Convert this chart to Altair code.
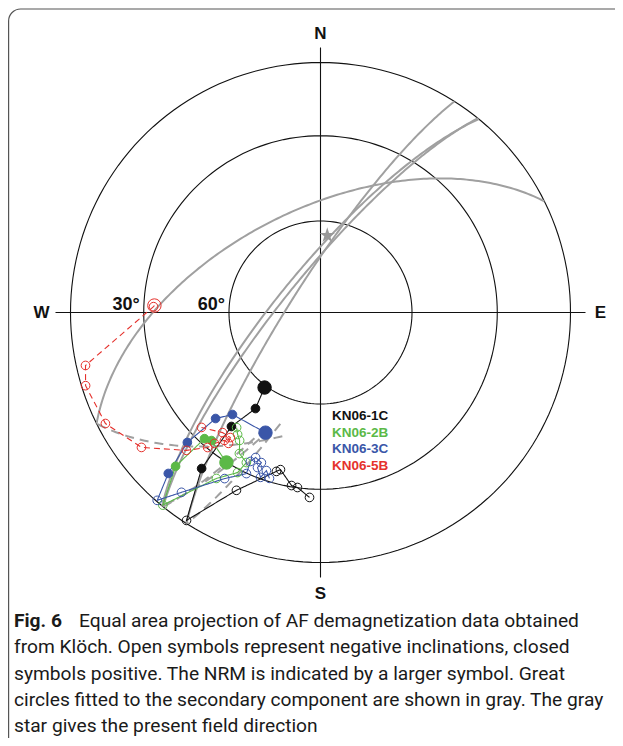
import altair as alt
import pandas as pd

# ---------------- data ----------------
SAMPLES = ["KN06-1C", "KN06-2B", "KN06-3C", "KN06-5B"]
COLORS = ["#111111", "#5bb947", "#3a56a8", "#e5312c"]

# demagnetization paths (declination, inclination); first entry = NRM
s1c_dec = [216.7, 214.1, 218.0, 217.3, 212.8, 205.3, 195.5, 194.3, 189.5, 187.5, 183.4]
s1c_inc = [59.3, 51.7, 41.7, 22.6, -1.2, -22.4, -34.4, -35.4, -30.5, -30.1, -26.8]

s2b_dec = [212.1, 220.4, 222.6, 223.3, 219.3, 212.1, 207.4, 206.3, 209.9, 212.3, 214.2, 216.1]
s2b_inc = [29.9, 33.2, 32.0, 16.6, -0.5, -22.7, -28.7, -33.5, -35.2, -39.3, -40.7, -42.5]

s3c_dec = [204.6, 220.8, 224.7, 225.7, 223.4, 221.0, 217.7, 210.0, 204.7, 205.2, 204.1,
           201.5, 202.1, 200.0, 198.9, 197.1]
s3c_inc = [46.1, 45.2, 40.1, 26.5, 12.4, -0.5, -10.0, -24.3, -29.8, -34.5, -36.6,
           -35.7, -33.5, -30.5, -33.6, -31.2]

s5b_dec = [272.4, 272.0, 257.3, 252.7, 242.7, 233.0, 224.2, 219.9, 219.0, 216.9, 215.1, 215.8,
           219.2, 226.0]
s5b_inc = [-33.9, -33.6, -4.1, -1.8, -3.6, -11.3, -24.1, -30.3, -33.1, -36.2, -36.2, -38.3,
           -38.0, -34.2]

# present field direction (star)
pf_dec = [5.0]
pf_inc = [64.7]

# fitted great circles: dip direction, dip, start angle of the dashed (upper) part
gc_id = [1, 2, 3, 4]
gc_dd = [333.6, 309.3, 309.0, 302.4]
gc_dip = [56.0, 76.0, 78.0, 80.0]
gc_dash_from = [298, 310, 311, 308]

# reference inclination circles
ref_inc = [0, 30, 60]
ref_lab_inc = [30, 60]
ref_lab = ["30°", "60°"]

CAPTION = [
    "Equal area projection of AF demagnetization data obtained",
    "from Klöch. Open symbols represent negative inclinations, closed",
    "symbols positive. The NRM is indicated by a larger symbol. Great",
    "circles fitted to the secondary component are shown in gray. The gray",
    "star gives the present field direction",
]

# ---------------- tables ----------------
def series(name, dec, inc):
    n = len(dec)
    return pd.DataFrame({"sample": [name] * n, "dec": dec, "inc": inc,
                         "step": list(range(n)), "nrm": [i == 0 for i in range(n)]})

pts = pd.concat([series(SAMPLES[0], s1c_dec, s1c_inc),
                 series(SAMPLES[1], s2b_dec, s2b_inc),
                 series(SAMPLES[2], s3c_dec, s3c_inc),
                 series(SAMPLES[3], s5b_dec, s5b_inc)], ignore_index=True)

gc = pd.DataFrame({"gc": gc_id, "dd": gc_dd, "dip": gc_dip, "dash_from": gc_dash_from})
gcp = gc.merge(pd.DataFrame({"phi": list(range(0, 361))}), how="cross")

ref = pd.DataFrame({"inc": ref_inc}).merge(pd.DataFrame({"az": list(range(0, 361, 2))}), how="cross")
reflab = pd.DataFrame({"inc": ref_lab_inc, "lab": ref_lab})
star = pd.DataFrame({"dec": pf_dec, "inc": pf_inc})

W, H = 607, 730
PX = 250.0
CX, CY = 312.5, 304.5
xs = alt.Scale(domain=[-CX / PX, (W - CX) / PX], nice=False, zero=False)
ys = alt.Scale(domain=[-(H - CY) / PX, CY / PX], nice=False, zero=False)
X = lambda f: alt.X(f, type="quantitative", scale=xs, axis=None)
Y = lambda f: alt.Y(f, type="quantitative", scale=ys, axis=None)

def project(ch):
    return (ch.transform_calculate(r="sqrt(1 - sin(abs(datum.inc) * PI / 180))")
              .transform_calculate(x="datum.r * sin(datum.dec * PI / 180)",
                                   y="datum.r * cos(datum.dec * PI / 180)"))

# reference circles
refc = alt.Chart(ref).mark_line(color="#111", strokeWidth=1.1).transform_calculate(
    r="sqrt(1 - sin(datum.inc * PI / 180))").transform_calculate(
    x="datum.r * sin(datum.az * PI / 180)", y="datum.r * cos(datum.az * PI / 180)").encode(
    x=X("x"), y=Y("y"), order="az:Q", detail="inc:N")

EXT = 1.06
cross = alt.Chart(pd.DataFrame({"x1": [-EXT, 0], "x2": [EXT, 0], "y1": [0, -EXT], "y2": [0, EXT]})).mark_rule(
    color="#111", strokeWidth=1.1).encode(x=X("x1"), x2="x2:Q", y=Y("y1"), y2="y2:Q")

# great circles
def gc_base():
    return (alt.Chart(gcp)
            .transform_calculate(
                vn="cos(datum.phi*PI/180)*cos((datum.dd-90)*PI/180)+sin(datum.phi*PI/180)*cos(datum.dip*PI/180)*cos(datum.dd*PI/180)",
                ve="cos(datum.phi*PI/180)*sin((datum.dd-90)*PI/180)+sin(datum.phi*PI/180)*cos(datum.dip*PI/180)*sin(datum.dd*PI/180)",
                vd="sin(datum.phi*PI/180)*sin(datum.dip*PI/180)")
            .transform_calculate(h="sqrt(datum.vn*datum.vn + datum.ve*datum.ve)",
                                 r="sqrt(1 - abs(datum.vd))")
            .transform_calculate(x="datum.r * datum.ve / datum.h", y="datum.r * datum.vn / datum.h"))

gc_solid = gc_base().transform_filter("datum.phi <= 180").mark_line(
    color="#a0a0a0", strokeWidth=2).encode(x=X("x"), y=Y("y"), order="phi:Q", detail="gc:N")
gc_dash = gc_base().transform_filter("datum.phi >= datum.dash_from").mark_line(
    color="#a0a0a0", strokeWidth=2, strokeDash=[9, 6]).encode(
    x=X("x"), y=Y("y"), order="phi:Q", detail="gc:N")

cscale = alt.Scale(domain=SAMPLES, range=COLORS)
lines = project(alt.Chart(pts)).mark_line(strokeWidth=1.1).encode(
    x=X("x"), y=Y("y"), order="step:Q", detail="sample:N",
    color=alt.Color("sample:N", scale=cscale, legend=None),
    strokeDash=alt.StrokeDash("sample:N", scale=alt.Scale(domain=SAMPLES, range=[[1, 0], [1, 0], [1, 0], [6, 4]]), legend=None))

dots = project(alt.Chart(pts)).mark_point(shape="circle", filled=True, strokeWidth=1, opacity=1).encode(
    x=X("x"), y=Y("y"),
    fill=alt.Fill("sample:N", scale=cscale, legend=None),
    stroke=alt.Stroke("sample:N", scale=cscale, legend=None),
    fillOpacity=alt.condition("datum.inc > 0", alt.value(1), alt.value(0)),
    size=alt.condition("datum.nrm", alt.value(180), alt.value(75)))

STAR = "M0,-1L0.2245,-0.309L0.9511,-0.309L0.3633,0.118L0.5878,0.809L0,0.382L-0.5878,0.809L-0.3633,0.118L-0.9511,-0.309L-0.2245,-0.309Z"
starm = project(alt.Chart(star)).mark_point(shape=STAR, filled=True, color="#999999", size=260, opacity=1).encode(
    x=X("x"), y=Y("y"))

one = alt.Data(values=[{}])
def lab(t, xv, yv, **kw):
    return alt.Chart(one).mark_text(text=t, font="Liberation Sans", fontWeight="bold", fontSize=17,
                                    color="#111", **kw).encode(x=alt.X(datum=xv, scale=xs, axis=None),
                                                                 y=alt.Y(datum=yv, scale=ys, axis=None))

compass = [lab("N", 0, 1.116), lab("S", 0, -1.124), lab("W", -1.116, 0), lab("E", 1.12, 0)]

deglab = alt.Chart(reflab).transform_calculate(
    x="-sqrt(1 - sin(datum.inc * PI / 180))", y="0").mark_text(
    font="Liberation Sans", fontWeight="bold", fontSize=18, color="#111", align="right",
    baseline="alphabetic", dx=-4, dy=-3).encode(x=X("x"), y=Y("y"), text="lab:N")

legend = []
for i, (s, c) in enumerate(zip(SAMPLES, COLORS)):
    legend.append(alt.Chart(one).mark_text(text=s, font="Liberation Sans", fontWeight="bold", fontSize=13.5,
                                           color=c, align="left", baseline="middle").encode(
        x=alt.value(324), y=alt.value(408 + 16.5 * i)))

border = alt.Chart(one).mark_rect(fillOpacity=0, stroke="#555", strokeWidth=1.2, cornerRadius=12, clip=True).encode(
    x=alt.value(0.6), x2=alt.value(660), y=alt.value(1), y2=alt.value(780))

FS = 19.2
cap = [alt.Chart(one).mark_text(text="Fig. 6", font="Roboto", fontWeight="bold", fontSize=FS, color="#1a1a1a",
                                align="left", baseline="alphabetic").encode(x=alt.value(6), y=alt.value(619))]
for i, t in enumerate(CAPTION):
    cap.append(alt.Chart(one).mark_text(text=t, font="Roboto", fontSize=FS, color="#1a1a1a",
                                        align="left", baseline="alphabetic").encode(
        x=alt.value(71 if i == 0 else 6), y=alt.value(619 + 26.3 * i)))

chart = alt.layer(border, refc, cross, gc_solid, gc_dash, lines, dots, starm, deglab,
                  *compass, *legend, *cap).properties(
    width=W, height=H, padding=0, autosize=alt.AutoSizeParams(type="none")).configure_view(strokeWidth=0)

chart.save("out.html", embed_options={"renderer": "svg", "actions": False})
